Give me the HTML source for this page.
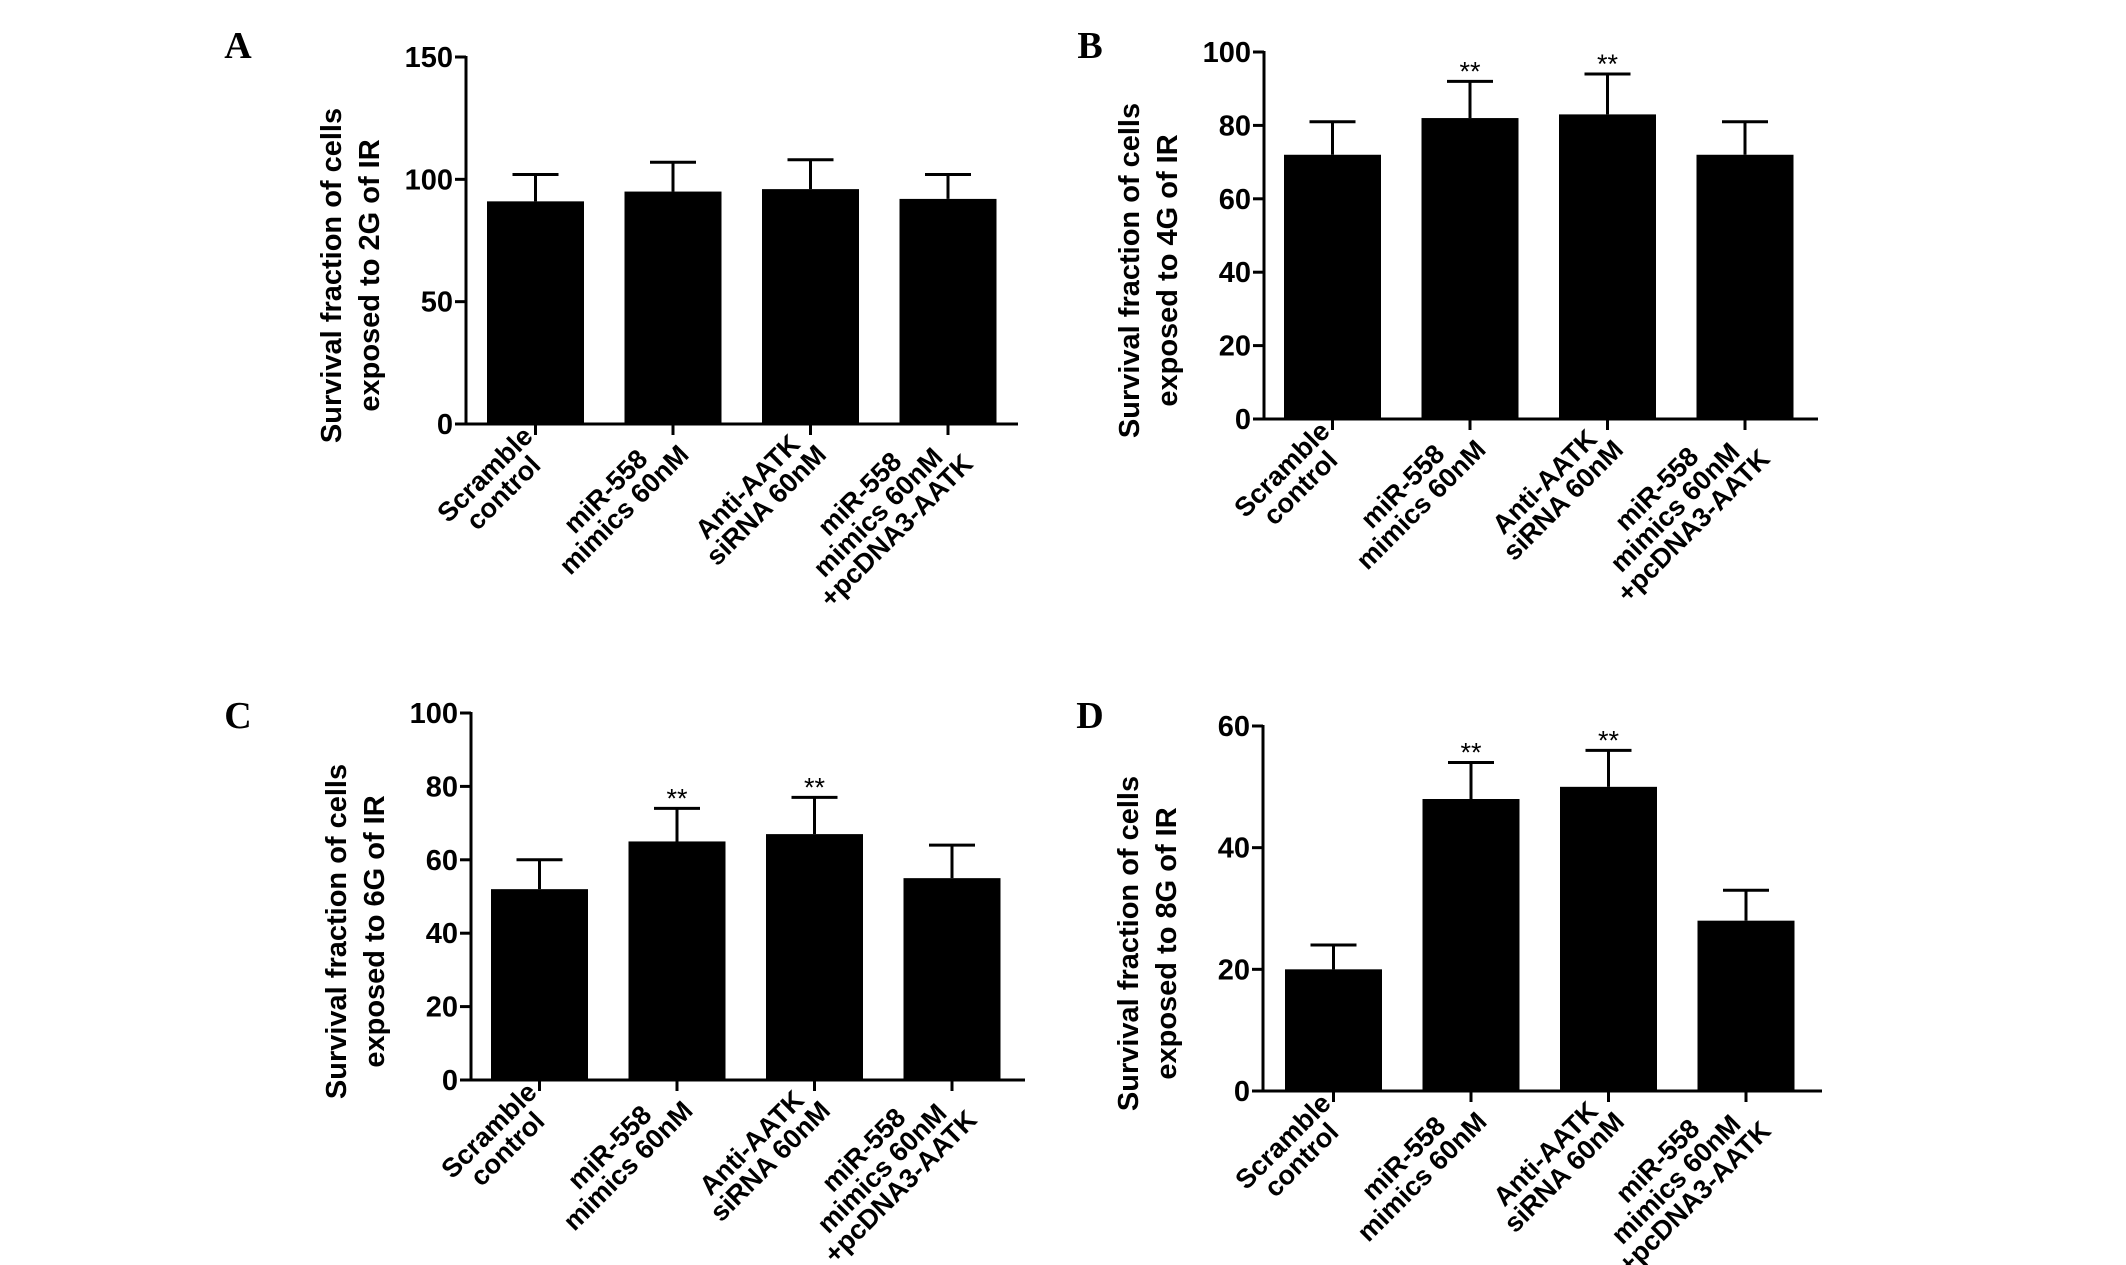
<!DOCTYPE html>
<html><head><meta charset="utf-8"><style>
html,body{margin:0;padding:0;background:#fff;}
svg{display:block;}
</style></head>
<body>
<svg id="fig" width="2126" height="1265" viewBox="0 0 2126 1265" xmlns="http://www.w3.org/2000/svg"></svg>
<script>
const categories = [["Scramble","control"],["miR-558","mimics 60nM"],["Anti-AATK","siRNA 60nM"],["miR-558","mimics 60nM","+pcDNA3-AATK"]];
const valuesA = [91, 95, 96, 92];
const errorsA = [102, 107, 108, 102];
const valuesB = [72, 82, 83, 72];
const errorsB = [81, 92, 94, 81];
const valuesC = [52, 65, 67, 55];
const errorsC = [60, 74, 77, 64];
const valuesD = [20, 48, 50, 28];
const errorsD = [24, 54, 56, 33];
const starsA = [false, false, false, false];
const starsB = [false, true, true, false];
const starsC = [false, true, true, false];
const starsD = [false, true, true, false];
const ticksA = [0, 50, 100, 150];
const ticksB = [0, 20, 40, 60, 80, 100];
const ticksC = [0, 20, 40, 60, 80, 100];
const ticksD = [0, 20, 40, 60];
const titlesA = ["Survival fraction of cells","exposed to 2G of IR"];
const titlesB = ["Survival fraction of cells","exposed to 4G of IR"];
const titlesC = ["Survival fraction of cells","exposed to 6G of IR"];
const titlesD = ["Survival fraction of cells","exposed to 8G of IR"];

const NS = "http://www.w3.org/2000/svg";
const svg = document.getElementById('fig');
const SANS = '"Liberation Sans", Arial, sans-serif';
function mk(tag, attrs, parent){
  const e = document.createElementNS(NS, tag);
  for (const k in attrs) e.setAttribute(k, attrs[k]);
  (parent||svg).appendChild(e);
  return e;
}

const panels = [
  {id:'a', letter:'A', lx:238, ly:58, ax:466, yTop:57, y0:424, xEnd:1018, firstBar:487, vals:valuesA, errs:errorsA, stars:starsA, ticks:ticksA, titles:titlesA},
  {id:'b', letter:'B', lx:1090, ly:58, ax:1264, yTop:52, y0:419, xEnd:1818, firstBar:1284, vals:valuesB, errs:errorsB, stars:starsB, ticks:ticksB, titles:titlesB},
  {id:'c', letter:'C', lx:238, ly:728, ax:471, yTop:713, y0:1080, xEnd:1025, firstBar:491, vals:valuesC, errs:errorsC, stars:starsC, ticks:ticksC, titles:titlesC},
  {id:'d', letter:'D', lx:1090, ly:728, ax:1263, yTop:726, y0:1091, xEnd:1822, firstBar:1285, vals:valuesD, errs:errorsD, stars:starsD, ticks:ticksD, titles:titlesD}
];

panels.forEach(p => {
  const g = mk('g', {});
  
  
  const maxV = p.ticks[p.ticks.length-1];
  const yS = v => p.y0 - (v / maxV) * (p.y0 - p.yTop);
  const step = 137.5, bw = 97;
  const xS = i => p.firstBar + i * step;

  const lt = mk('text', {x:p.lx, y:p.ly, 'font-family':'"Liberation Serif", "Times New Roman", serif', 'font-weight':'bold', 'font-size':38, 'text-anchor':'middle', fill:'#000'}, g);
  lt.textContent = p.letter;
  
  

  p.vals.forEach((v, i) => {
    const x = xS(i);
    const r = mk('rect', {x:x, y:yS(v), width:bw, height:p.y0 - yS(v), fill:'#000'}, g);
    
    
    const cx = x + bw/2;
    const ey = yS(p.errs[i]);
    const eb = mk('path', {d:`M${cx} ${yS(v)} V${ey} M${cx-23} ${ey} H${cx+23}`, stroke:'#000', 'stroke-width':3, fill:'none'}, g);
    
    
    if (p.stars[i]) {
      const st = mk('text', {x:cx, y:ey - 1, 'font-family':SANS, 'font-size':27, 'text-anchor':'middle', fill:'#000'}, g);
      st.textContent = '**';
      
      
    }
    const xt = mk('line', {x1:cx, x2:cx, y1:p.y0, y2:p.y0 + 11, stroke:'#000', 'stroke-width':3}, g);
    
    
    const lines = categories[i];
    const lg = mk('g', {transform:`translate(${cx + 1},${p.y0 + 16}) rotate(-45)`}, g);
    
    
    const tEls = lines.map((s, k) => {
      const t = mk('text', {x:0, y:(k - (lines.length-1)/2) * 26 + 10, 'font-family':SANS, 'font-size':27, 'font-weight':'bold', 'text-anchor':'middle', fill:'#000'}, lg);
      t.textContent = s;
      return t;
    });
    let mw = 0; tEls.forEach(t => { mw = Math.max(mw, t.getComputedTextLength()); });
    tEls.forEach(t => t.setAttribute('x', -mw/2));
  });

  const ya = mk('line', {x1:p.ax, x2:p.ax, y1:p.yTop - 1, y2:p.y0 + 1.5, stroke:'#000', 'stroke-width':3}, g);
  
  
  const xa = mk('line', {x1:p.ax - 10, x2:p.xEnd, y1:p.y0, y2:p.y0, stroke:'#000', 'stroke-width':3}, g);
  
  

  p.ticks.forEach(t => {
    const y = yS(t);
    const tl = mk('line', {x1:p.ax - 11, x2:p.ax, y1:y, y2:y, stroke:'#000', 'stroke-width':3}, g);
    
    
    const tt = mk('text', {x:p.ax - 13, y:y + 10, 'font-family':SANS, 'font-size':29, 'font-weight':'bold', 'text-anchor':'end', fill:'#000'}, g);
    tt.textContent = t;
    
    
  });

  const cy = (p.yTop + p.y0) / 2 + 35;
  const tg = mk('g', {transform:`translate(${p.ax - 116},${cy}) rotate(-90)`}, g);
  
  
  p.titles.forEach((s, k) => {
    const t = mk('text', {x:0, y:(k - 0.5) * 38 + 10, 'font-family':SANS, 'font-size':29, 'font-weight':'bold', 'text-anchor':'middle', fill:'#000'}, tg);
    t.textContent = s;
  });
});
</script>
</body></html>
